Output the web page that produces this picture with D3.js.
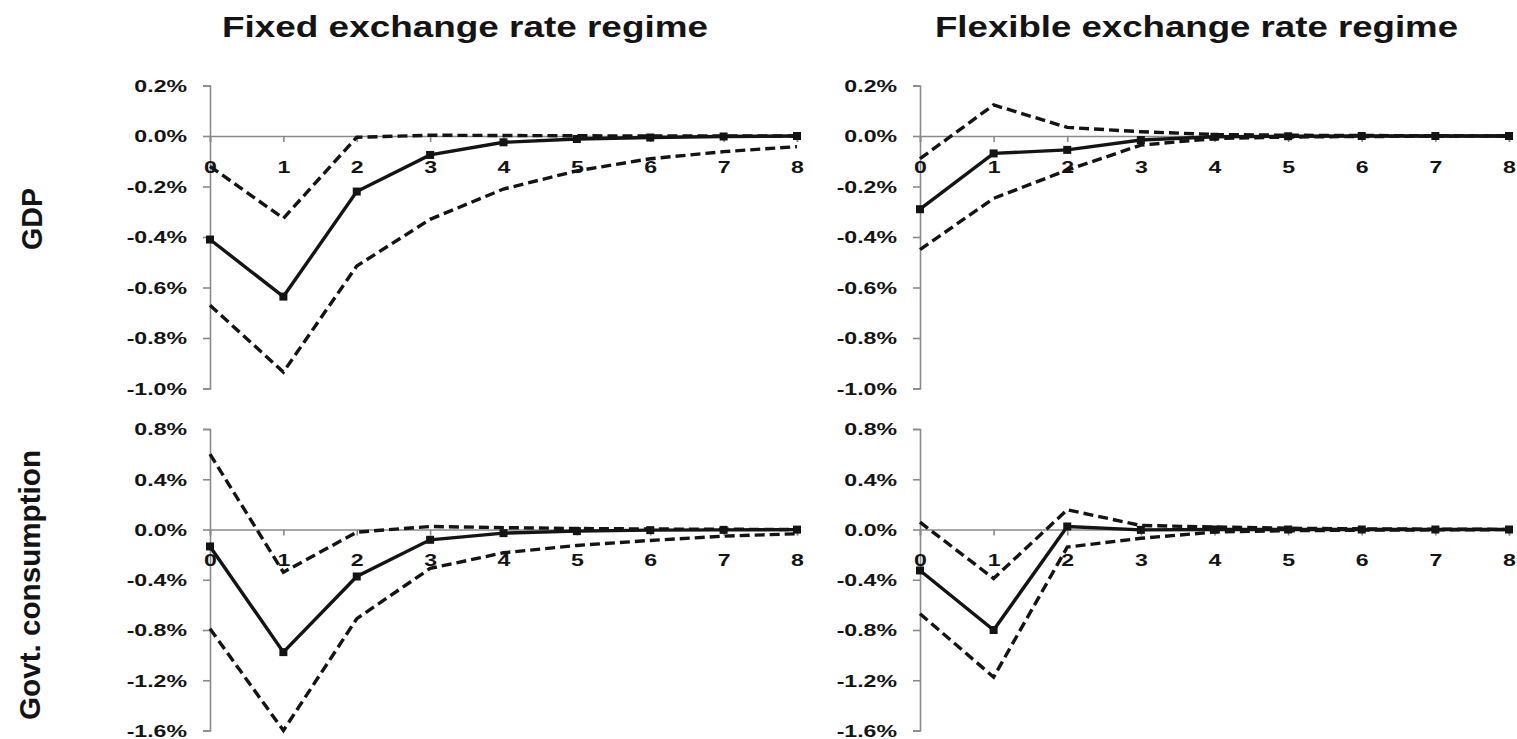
<!DOCTYPE html>
<html><head><meta charset="utf-8">
<script src="https://cdn.jsdelivr.net/npm/d3@7"></script>
<style>body{margin:0;background:#fff;overflow:hidden}</style>
</head><body>
<svg id="c" width="1517" height="739"></svg>
<script>
// ---------- DATA ----------
const periods = [0, 1, 2, 3, 4, 5, 6, 7, 8];
const columnTitles = ["Fixed exchange rate regime", "Flexible exchange rate regime"];
const rowTitles = ["GDP", "Govt. consumption"];
const gdpTicks = [0.2, 0.0, -0.2, -0.4, -0.6, -0.8, -1.0];
const govTicks = [0.8, 0.4, 0.0, -0.4, -0.8, -1.2, -1.6];

// GDP, fixed regime (% deviation)
const fixedGdpMean  = [-0.41, -0.636, -0.22, -0.075, -0.025, -0.012, -0.006, -0.002, 0.0];
const fixedGdpUpper = [-0.12, -0.326, -0.005, 0.003, 0.002, 0.001, 0.0, 0.0, 0.0];
const fixedGdpLower = [-0.67, -0.935, -0.515, -0.33, -0.21, -0.138, -0.09, -0.062, -0.042];
// GDP, flexible regime
const flexGdpMean  = [-0.29, -0.069, -0.055, -0.016, -0.003, -0.001, 0.0, 0.0, 0.0];
const flexGdpUpper = [-0.09, 0.123, 0.034, 0.017, 0.006, 0.003, 0.002, 0.001, 0.0];
const flexGdpLower = [-0.45, -0.247, -0.135, -0.036, -0.01, -0.004, -0.002, -0.001, 0.0];
// Govt. consumption, fixed regime
const fixedGovMean  = [-0.135, -0.976, -0.374, -0.082, -0.029, -0.013, -0.005, -0.003, -0.001];
const fixedGovUpper = [0.60, -0.34, -0.021, 0.024, 0.015, 0.008, 0.004, 0.002, 0.0];
const fixedGovLower = [-0.79, -1.60, -0.71, -0.31, -0.185, -0.127, -0.087, -0.053, -0.034];
// Govt. consumption, flexible regime
const flexGovMean  = [-0.326, -0.80, 0.024, -0.003, 0.0, 0.0, 0.0, 0.0, 0.0];
const flexGovUpper = [0.058, -0.39, 0.157, 0.032, 0.02, 0.01, 0.005, 0.003, 0.001];
const flexGovLower = [-0.67, -1.175, -0.14, -0.07, -0.02, -0.01, -0.005, -0.003, -0.001];

// ---------- LAYOUT ----------
const panels = [
  {mean: fixedGdpMean, upper: fixedGdpUpper, lower: fixedGdpLower, ticks: gdpTicks, xl: 210, xr: 797, yt: 85.5, yb: 388.5},
  {mean: flexGdpMean,  upper: flexGdpUpper,  lower: flexGdpLower,  ticks: gdpTicks, xl: 920, xr: 1509, yt: 85.5, yb: 388.5},
  {mean: fixedGovMean, upper: fixedGovUpper, lower: fixedGovLower, ticks: govTicks, xl: 210, xr: 797, yt: 429, yb: 730.5},
  {mean: flexGovMean,  upper: flexGovUpper,  lower: flexGovLower,  ticks: govTicks, xl: 920, xr: 1509, yt: 429, yb: 730.5}
];

const svg = d3.select("#c");
const FONT = "'Liberation Sans', Arial, sans-serif";
const AXIS = "#8a8a8a";
const INK = "#141414";
const pct = d => (d < 0 ? "-" : "") + Math.abs(d).toFixed(1) + "%";

function stretch(sel, f) {
  sel.each(function () {
    const w = this.getComputedTextLength();
    d3.select(this).attr("textLength", w * f).attr("lengthAdjust", "spacingAndGlyphs");
  });
}

panels.forEach(p => {
  const x = d3.scaleLinear().domain([d3.min(periods), d3.max(periods)]).range([p.xl, p.xr]);
  const y = d3.scaleLinear().domain([d3.min(p.ticks), d3.max(p.ticks)]).range([p.yb, p.yt]);
  const g = svg.append("g");

  // Y axis
  const yAxis = g.append("g").attr("transform", `translate(${p.xl},0)`)
    .call(d3.axisLeft(y).tickValues(p.ticks).tickSize(7).tickPadding(16).tickFormat(pct));
  yAxis.select(".domain").attr("stroke", AXIS).attr("stroke-width", 1.6);
  yAxis.selectAll(".tick line").attr("stroke", AXIS).attr("stroke-width", 1.6);
  yAxis.selectAll(".tick text").attr("font-family", FONT).attr("font-size", 16.5)
    .attr("font-weight", "bold").attr("fill", INK).attr("dy", "0.36em");
  stretch(yAxis.selectAll(".tick text"), 1.4);

  // X axis at zero
  const xAxis = g.append("g").attr("transform", `translate(0,${y(0)})`)
    .call(d3.axisBottom(x).tickValues(periods).tickSize(6).tickPadding(19).tickFormat(d3.format("d")));
  xAxis.select(".domain").attr("stroke", AXIS).attr("stroke-width", 1.6);
  xAxis.selectAll(".tick line").attr("stroke", AXIS).attr("stroke-width", 1.6);
  xAxis.selectAll(".tick text").attr("font-family", FONT).attr("font-size", 16.5)
    .attr("font-weight", "bold").attr("fill", INK);
  stretch(xAxis.selectAll(".tick text"), 1.4);

  const line = d3.line().x((d, i) => x(periods[i])).y(d => y(d));

  [p.upper, p.lower].forEach(s => {
    g.append("path").datum(s).attr("d", line).attr("fill", "none")
      .attr("stroke", INK).attr("stroke-width", 3.4).attr("stroke-dasharray", "10,5");
  });
  g.append("path").datum(p.mean).attr("d", line).attr("fill", "none")
    .attr("stroke", INK).attr("stroke-width", 3.4);
  g.selectAll("rect.m").data(p.mean).enter().append("rect").attr("class", "m")
    .attr("x", (d, i) => x(periods[i]) - 4).attr("y", d => y(d) - 4)
    .attr("width", 8).attr("height", 8).attr("fill", INK);
});

// Column titles
const titlePos = [{x: 222, w: 486}, {x: 935, w: 523}];
columnTitles.forEach((t, i) => {
  svg.append("text").attr("x", titlePos[i].x).attr("y", 37)
    .attr("font-family", FONT).attr("font-size", 30).attr("font-weight", "bold").attr("fill", INK)
    .attr("textLength", titlePos[i].w).attr("lengthAdjust", "spacingAndGlyphs").text(t);
});

// Row titles
const rowPos = [{x: 42, y: 219, w: 62}, {x: 40, y: 585, w: 270}];
rowTitles.forEach((t, i) => {
  svg.append("text").attr("transform", `translate(${rowPos[i].x},${rowPos[i].y}) rotate(-90)`)
    .attr("text-anchor", "middle")
    .attr("font-family", FONT).attr("font-size", 29).attr("font-weight", "bold").attr("fill", INK)
    .attr("textLength", rowPos[i].w).attr("lengthAdjust", "spacingAndGlyphs").text(t);
});
</script>
</body></html>
